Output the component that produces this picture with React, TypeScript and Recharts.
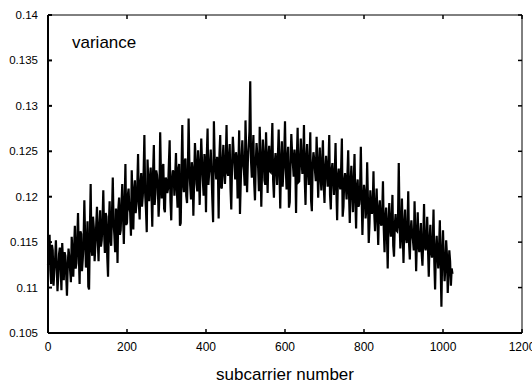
/**
 * App.tsx - Per-subcarrier variance trace (LineChart).
 * Noisy variance curve across ~1024 subcarriers, boxed plot with inward ticks.
 */

import React from "react";
import { LineChart, Line, XAxis, YAxis, ReferenceArea, Label } from "recharts";

// Variance at subcarriers 0, 4, 8, ... 1024.
const varianceEven: number[] = [
  0.1125, 0.1158, 0.1104, 0.1141, 0.1118, 0.1152, 0.1096, 0.1137, 0.1122, 0.1149, 0.1108, 0.1135, 0.1091, 0.1143, 0.1119, 0.1156,
  0.1112, 0.1168, 0.1127, 0.1182, 0.1104, 0.1159, 0.1131, 0.1196, 0.1122, 0.1173, 0.1098, 0.1214, 0.1135, 0.1166, 0.1147, 0.1189,
  0.1129, 0.1185, 0.1152, 0.1207, 0.1138, 0.1178, 0.1112, 0.1195, 0.1146, 0.1221, 0.1158, 0.1187, 0.1127, 0.1199, 0.1163, 0.1214,
  0.1148, 0.1236, 0.1171, 0.1209, 0.1183, 0.1229, 0.1164, 0.1218, 0.1192, 0.1247, 0.1175, 0.1226, 0.1201, 0.1268, 0.1186, 0.1241,
  0.1195, 0.1232, 0.1167, 0.1257, 0.1203, 0.1224, 0.1178, 0.1271, 0.1198, 0.1236, 0.1183, 0.1218, 0.1209, 0.1262, 0.1174, 0.1229,
  0.1201, 0.1248, 0.1188, 0.1236, 0.1171, 0.1279, 0.1205, 0.1242, 0.1193, 0.1286, 0.1212, 0.1238, 0.1179, 0.1259, 0.1214, 0.1251,
  0.1191, 0.1264, 0.1218, 0.1247, 0.1183, 0.1275, 0.1226, 0.1252, 0.1197, 0.1283, 0.1231, 0.1244, 0.1176, 0.1268, 0.1209, 0.1257,
  0.1214, 0.1279, 0.1223, 0.1258, 0.1186, 0.1266, 0.1235, 0.1249, 0.1198, 0.1273, 0.1216, 0.1262, 0.1229, 0.1284, 0.1205, 0.1255,
  0.1327, 0.1221, 0.1268, 0.1196, 0.1259, 0.1232, 0.1277, 0.1189, 0.1263, 0.1218, 0.1271, 0.1204, 0.1256, 0.1227, 0.1281, 0.1199,
  0.1248, 0.1213, 0.1274, 0.1187, 0.1261, 0.1229, 0.1283, 0.1208, 0.1255, 0.1194, 0.1269, 0.1236, 0.1252, 0.1182, 0.1276, 0.1217,
  0.1264, 0.1225, 0.1279, 0.1191, 0.1258, 0.1213, 0.1271, 0.1184, 0.1249, 0.1228, 0.1266, 0.1199, 0.1254, 0.1207, 0.1262, 0.1193,
  0.1245, 0.1211, 0.1268, 0.1186, 0.1237, 0.1202, 0.1259, 0.1174, 0.1231, 0.1208, 0.1264, 0.1189, 0.1226, 0.1197, 0.1251, 0.1171,
  0.1234, 0.1183, 0.1247, 0.1165, 0.1219, 0.1192, 0.1255, 0.1158, 0.1213, 0.1176, 0.1238, 0.1149, 0.1207, 0.1181, 0.1228, 0.1162,
  0.1209, 0.1147, 0.1196, 0.1168, 0.1217, 0.1139, 0.1188, 0.1121, 0.1193, 0.1156, 0.1202, 0.1134, 0.1181, 0.1162, 0.1237, 0.1143,
  0.1198, 0.1127, 0.1186, 0.1149, 0.1206, 0.1131, 0.1174, 0.1152, 0.1195, 0.1118, 0.1183, 0.1139, 0.1171, 0.1124, 0.1192, 0.1141,
  0.1178, 0.1112, 0.1169, 0.1133, 0.1186, 0.1098, 0.1157, 0.1121, 0.1174, 0.1079, 0.1163, 0.1107, 0.1152, 0.1094, 0.1141, 0.1102,
  0.1115,
];

// Variance at subcarriers 2, 6, 10, ... 1022.
const varianceOdd: number[] = [
  0.1136, 0.1119, 0.1147, 0.1102, 0.1131, 0.1125, 0.1113, 0.1144, 0.1097, 0.1128, 0.1139, 0.1115, 0.1124, 0.1133, 0.1106, 0.1138,
  0.1142, 0.1121, 0.1153, 0.1137, 0.1162, 0.1118, 0.1149, 0.1156, 0.1139, 0.1101, 0.1161, 0.1144, 0.1178, 0.1129, 0.1168, 0.1152,
  0.1167, 0.1145, 0.1173, 0.1161, 0.1182, 0.1134, 0.1169, 0.1154, 0.1181, 0.1172, 0.1139, 0.1176, 0.1186, 0.1158, 0.1191, 0.1178,
  0.1192, 0.1169, 0.1201, 0.1187, 0.1157, 0.1198, 0.1206, 0.1182, 0.1211, 0.1193, 0.1214, 0.1189, 0.1224, 0.1203, 0.1161, 0.1216,
  0.1218, 0.1203, 0.1226, 0.1191, 0.1229, 0.1212, 0.1199, 0.1224, 0.1232, 0.1187, 0.1221, 0.1204, 0.1236, 0.1195, 0.1219, 0.1227,
  0.1223, 0.1209, 0.1231, 0.1168, 0.1228, 0.1216, 0.1239, 0.1201, 0.1226, 0.1234, 0.1197, 0.1229, 0.1218, 0.1241, 0.1206, 0.1233,
  0.1229, 0.1238, 0.1201, 0.1232, 0.1244, 0.1213, 0.1236, 0.1227, 0.1172, 0.1241, 0.1219, 0.1235, 0.1246, 0.1211, 0.1239, 0.1226,
  0.1238, 0.1227, 0.1243, 0.1209, 0.1236, 0.1248, 0.1219, 0.1241, 0.1233, 0.1181, 0.1244, 0.1237, 0.1212, 0.1246, 0.1239, 0.1272,
  0.1239, 0.1246, 0.1215, 0.1238, 0.1245, 0.1206, 0.1241, 0.1233, 0.1248, 0.1213, 0.1239, 0.1243, 0.1228, 0.1251, 0.1218, 0.1236,
  0.1232, 0.1244, 0.1227, 0.1239, 0.1211, 0.1246, 0.1231, 0.1242, 0.1188, 0.1235, 0.1248, 0.1222, 0.1238, 0.1243, 0.1216, 0.1241,
  0.1241, 0.1236, 0.1219, 0.1243, 0.1229, 0.1238, 0.1196, 0.1234, 0.1241, 0.1217, 0.1237, 0.1229, 0.1224, 0.1239, 0.1213, 0.1231,
  0.1228, 0.1234, 0.1202, 0.1229, 0.1219, 0.1226, 0.1208, 0.1222, 0.1214, 0.1229, 0.1178, 0.1218, 0.1212, 0.1223, 0.1205, 0.1214,
  0.1207, 0.1216, 0.1198, 0.1211, 0.1189, 0.1207, 0.1201, 0.1193, 0.1204, 0.1186, 0.1196, 0.1171, 0.1192, 0.1188, 0.1181, 0.1189,
  0.1178, 0.1186, 0.1172, 0.1181, 0.1165, 0.1176, 0.1159, 0.1172, 0.1168, 0.1174, 0.1146, 0.1169, 0.1163, 0.1171, 0.1176, 0.1158,
  0.1161, 0.1168, 0.1156, 0.1163, 0.1149, 0.1162, 0.1158, 0.1141, 0.1159, 0.1152, 0.1147, 0.1156, 0.1138, 0.1153, 0.1146, 0.1151,
  0.1143, 0.1151, 0.1139, 0.1147, 0.1128, 0.1141, 0.1136, 0.1143, 0.1125, 0.1138, 0.1131, 0.1122, 0.1136, 0.1118, 0.1129, 0.1121,
];

const xTicks = [0, 200, 400, 600, 800, 1000, 1200];
const yTicks = [0.105, 0.11, 0.115, 0.12, 0.125, 0.13, 0.135, 0.14];
const yTickLabels = ["0.105", "0.11", "0.115", "0.12", "0.125", "0.13", "0.135", "0.14"];

// merge both sample sets into one trace ordered by subcarrier
const data: { subcarrier: number; variance: number }[] = [];
varianceEven.forEach((v, i) => {
  data.push({ subcarrier: i * 4, variance: v });
  if (i < varianceOdd.length) data.push({ subcarrier: i * 4 + 2, variance: varianceOdd[i] });
});

// plot box in pixels
const LEFT = 48;
const RIGHT = 522;
const TOP = 15;
const BOTTOM = 333;
const FONT = "'Liberation Sans', Arial, Helvetica, sans-serif";

const YTick = (props: any) => {
  const y = props.payload.coordinate;
  const idx = yTicks.indexOf(props.payload.value);
  return (
    <g>
      <line x1={LEFT} x2={LEFT + 4} y1={y} y2={y} stroke="#000" strokeWidth={2} />
      <line x1={RIGHT - 4} x2={RIGHT} y1={y} y2={y} stroke="#000" strokeWidth={1.5} />
      <text x={LEFT - 10} y={y + 4} textAnchor="end" fontSize={11.5} fontFamily={FONT} fill="#000">
        {yTickLabels[idx]}
      </text>
    </g>
  );
};

const XTick = (props: any) => {
  const x = props.payload.coordinate;
  return (
    <g>
      <line x1={x} x2={x} y1={BOTTOM} y2={BOTTOM - 4} stroke="#000" strokeWidth={1.5} />
      <line x1={x} x2={x} y1={TOP} y2={TOP + 4} stroke="#000" strokeWidth={1.5} />
      <text x={x} y={BOTTOM + 18} textAnchor="middle" fontSize={12} fontFamily={FONT} fill="#000">
        {props.payload.value}
      </text>
    </g>
  );
};

const App: React.FC = () => {
  return (
    <div style={{ position: "fixed", left: 0, top: 0, width: 532, height: 383, background: "#fff" }}>
      <LineChart
        width={532}
        height={383}
        data={data}
        margin={{ top: TOP, right: 532 - RIGHT, bottom: 0, left: 0 }}
      >
        <XAxis
          dataKey="subcarrier"
          type="number"
          domain={[0, 1200]}
          ticks={xTicks}
          height={383 - BOTTOM}
          tickLine={false}
          axisLine={{ stroke: "#000", strokeWidth: 2 }}
          tick={<XTick />}
          interval={0}
        >
          <Label
            value="subcarrier number"
            position="insideBottom"
            offset={3}
            style={{ fontSize: 17, fontFamily: FONT, fill: "#000" }}
          />
        </XAxis>
        <YAxis
          type="number"
          domain={[0.105, 0.14]}
          ticks={yTicks}
          width={LEFT}
          tickLine={false}
          axisLine={{ stroke: "#000", strokeWidth: 2 }}
          tick={<YTick />}
          interval={0}
          allowDataOverflow
        />
        <ReferenceArea
          x1={0}
          x2={1200}
          y1={0.105}
          y2={0.14}
          fill="none"
          stroke="#000"
          strokeWidth={1}
          ifOverflow="visible"
        />
        <Line
          type="linear"
          dataKey="variance"
          stroke="#000"
          strokeWidth={2.2}
          dot={false}
          isAnimationActive={false}
        />
      </LineChart>
      <div
        style={{
          position: "absolute",
          left: 72,
          top: 34,
          fontSize: 17,
          fontFamily: FONT,
          color: "#000",
          lineHeight: "17px",
        }}
      >
        variance
      </div>
    </div>
  );
};

export default App;
